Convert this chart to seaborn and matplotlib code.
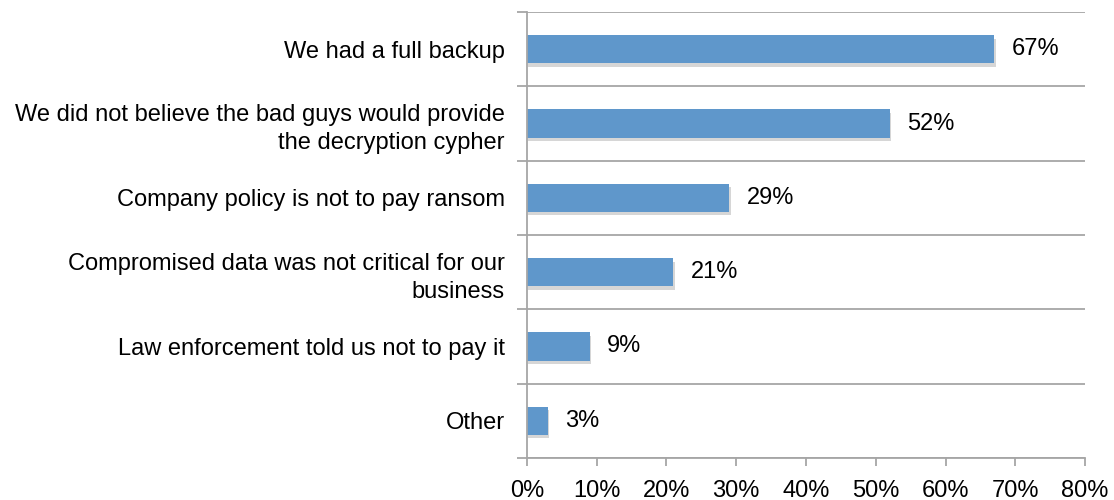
import matplotlib
matplotlib.use("Agg")
import matplotlib.pyplot as plt
import matplotlib.patheffects as pe
from matplotlib.ticker import FixedLocator, PercentFormatter
import seaborn as sns
import pandas as pd

reasons = [
    "We had a full backup",
    "We did not believe the bad guys would provide\nthe decryption cypher",
    "Company policy is not to pay ransom",
    "Compromised data was not critical for our\nbusiness",
    "Law enforcement told us not to pay it",
    "Other",
]
shares = [67, 52, 29, 21, 9, 3]
x_ticks = [0, 10, 20, 30, 40, 50, 60, 70, 80]

df = pd.DataFrame({"reason": reasons, "share": shares})

sns.set_theme(style="white")
plt.rcParams["font.family"] = ["Liberation Sans", "DejaVu Sans"]

fig = plt.figure(figsize=(11.14, 5.0), dpi=100)
ax = fig.add_axes([0.473, 0.084, 0.501, 0.892])

bar_color = "#5F97CB"
sns.barplot(data=df, x="share", y="reason", orient="h", color=bar_color,
            saturation=1, width=0.38, ax=ax)

for patch in ax.patches:
    patch.set_edgecolor("none")
    patch.set_path_effects([
        pe.SimplePatchShadow(offset=(1.0, -2.5), shadow_rgbFace="#9a9a9a", alpha=0.4),
        pe.Normal(),
    ])

fs = 17
for i, v in enumerate(shares):
    ax.text(v + 2.5, i, f"{v}%", va="center", ha="left", fontsize=fs, color="black")

grey = "#a6a6a6"
ax.set_xlim(0, 80)
ax.set_ylim(len(reasons) - 0.5, -0.5)
ax.xaxis.set_major_locator(FixedLocator(x_ticks))
ax.xaxis.set_major_formatter(PercentFormatter(decimals=0))

# category separators as minor ticks with grid lines
bounds = [i - 0.5 for i in range(len(reasons) + 1)]
ax.yaxis.set_minor_locator(FixedLocator(bounds))
ax.grid(False)
ax.grid(which="minor", axis="y", color=grey, linewidth=1.3)
ax.tick_params(axis="y", which="minor", length=7, width=1.3, color=grey, left=True)
ax.tick_params(axis="y", which="major", length=0, pad=16, labelsize=fs, labelcolor="black")
ax.tick_params(axis="x", which="major", length=6, width=1.3, color=grey, bottom=True,
               pad=10, labelsize=fs, labelcolor="black")
for lbl in ax.get_yticklabels():
    lbl.set_linespacing(1.35)

ax.set_xlabel("")
ax.set_ylabel("")
for side in ["top", "right"]:
    ax.spines[side].set_visible(False)
for side in ["left", "bottom"]:
    ax.spines[side].set_color(grey)
    ax.spines[side].set_linewidth(1.3)

fig.savefig("out.png", dpi=100, facecolor="white")
